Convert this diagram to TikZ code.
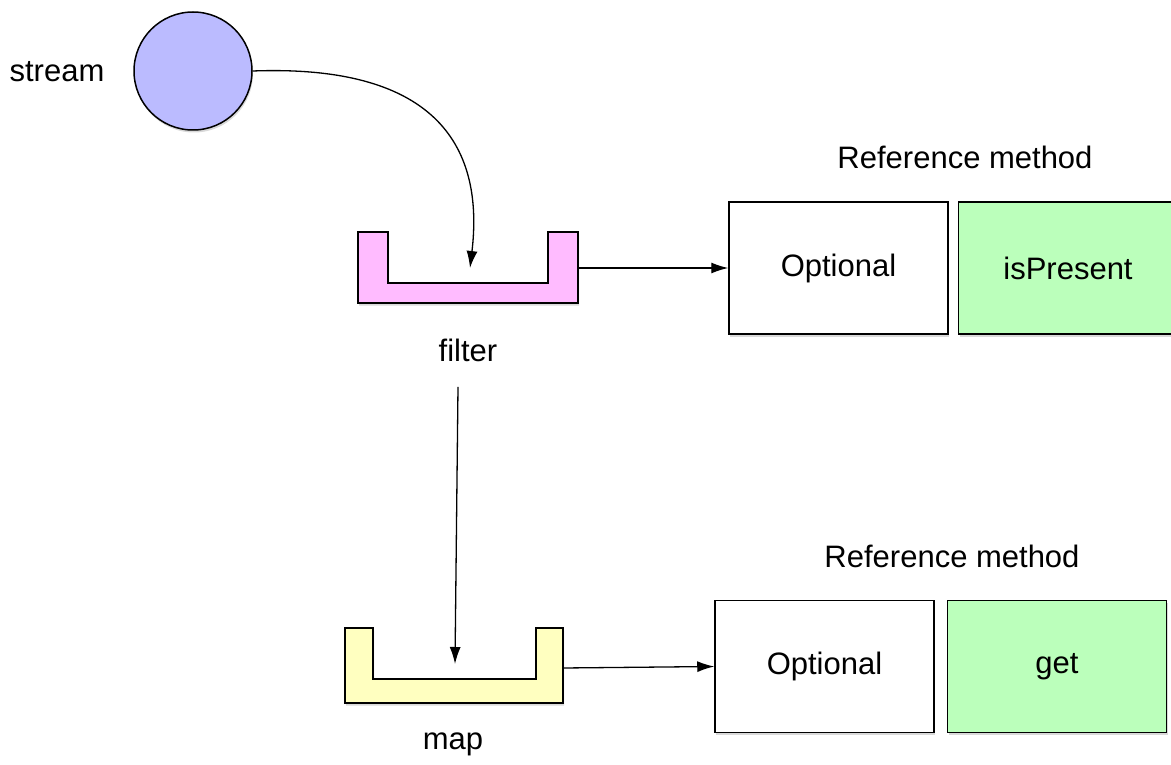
\documentclass[tikz,border=0pt]{standalone}
\usepackage{fontspec}
\setmainfont{Liberation Sans}
\usepackage{tikz}
\usetikzlibrary{arrows.meta, positioning, shadows, calc}
\definecolor{streamblue}{HTML}{BBBBFF}
\definecolor{filterpink}{HTML}{FFBBFF}
\definecolor{mapyellow}{HTML}{FFFFC0}
\definecolor{methodgreen}{HTML}{BBFFBB}

\tikzset{
  every node/.style={font=\fontsize{31}{36}\selectfont},
  flow/.style={line width=1.3pt, -{Latex[length=17pt, width=11pt]}},
  boxshadow/.style={drop shadow={opacity=0.3, shadow xshift=1pt, shadow yshift=-2.5pt}},
  valuebox/.style={draw, line width=1.5pt, fill=white, minimum width=219pt, minimum height=132pt, boxshadow},
  methodbox/.style={valuebox, fill=methodgreen},
  stage/.style={draw, line width=1.5pt, boxshadow},
}

\begin{document}
\begin{tikzpicture}[x=1pt, y=-1pt]
  \useasboundingbox (0,0) rectangle (1171,765);

  % source
  \node[circle, draw, line width=1.5pt, fill=streamblue, minimum size=118pt, boxshadow] (stream) at (193,71) {};
  \node (streamlabel) at (57,72) {stream};

  % filter stage
  \path[stage, fill=filterpink] (358,232) -- (388,232) -- (388,283) -- (548,283) -- (548,232)
    -- (578,232) -- (578,303) -- (358,303) -- cycle;
  \coordinate (filterin) at (470,268);
  \coordinate (filterout) at (578,268);
  \node (filter) at (468,350) {filter};

  % map stage
  \path[stage, fill=mapyellow] (345,628) -- (373,628) -- (373,679) -- (536,679) -- (536,628)
    -- (563,628) -- (563,703) -- (345,703) -- cycle;
  \coordinate (mapin) at (455,664);
  \coordinate (mapout) at (563,668);
  \node (map) at (453,744) {map};

  % reference methods
  \node (ref1) at (965,157) {Reference method};
  \node[valuebox] (opt1) at (838.5,268) {Optional};
  \node[methodbox, right=9pt of opt1] (present) {isPresent};

  \node (ref2) at (952,556) {Reference method};
  \node[valuebox] (opt2) at (824.5,666.5) {Optional};
  \node[methodbox, right=12pt of opt2] (get) {get};

  % connectors
  \draw[flow] (stream.east) .. controls (440,64) and (484,150) .. (filterin);
  \draw[flow] (filterout) -- (opt1.west);
  \draw[flow] ($(filter.south)+(-10,22)$) -- (mapin);
  \draw[flow] (mapout) -- (opt2.west);
\end{tikzpicture}
\end{document}
